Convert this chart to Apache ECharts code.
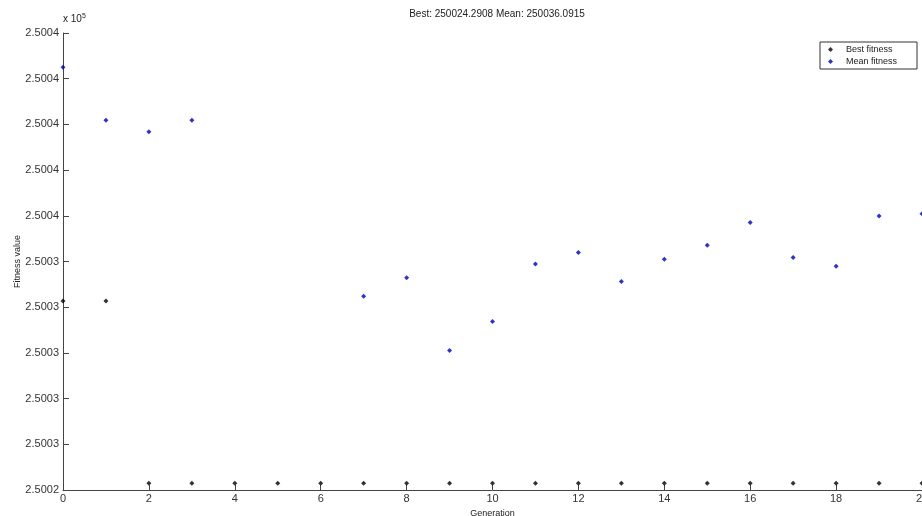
<!DOCTYPE html>
<html>
<head>
<meta charset="utf-8">
<script src="https://cdn.jsdelivr.net/npm/echarts@6/dist/echarts.min.js"></script>
<style>
  html, body { margin: 0; padding: 0; background: #fff; }
  #chart { width: 922px; height: 516px; }
</style>
</head>
<body>
<div id="chart"></div>
<script>
const generations = [0, 1, 2, 3, 4, 5, 6, 7, 8, 9, 10, 11, 12, 13, 14, 15, 16, 17, 18, 19, 20]
const bestFitness = [250032.27, 250032.27, 250024.29, 250024.29, 250024.29, 250024.29, 250024.29,
  250024.29, 250024.29, 250024.29, 250024.29, 250024.29, 250024.29, 250024.29, 250024.29,
  250024.29, 250024.29, 250024.29, 250024.29, 250024.29, 250024.2908]
// gens 4-6 mean points are not visible in the plot
const meanFitness = [250042.50, 250040.18, 250039.68, 250040.18, null, null, null,
  250032.48, 250033.29, 250030.10, 250031.37, 250033.89, 250034.39, 250033.12, 250034.10,
  250034.71, 250035.71, 250034.18, 250033.79, 250035.99, 250036.0915]
const yTicks = { min: 250024, max: 250044, step: 2 }

const pairs = (vals) => generations.map((g, i) => [g, vals[i]]).filter(p => p[1] != null)

const chart = echarts.init(document.getElementById('chart'), null, { renderer: 'canvas' })
const font = 'Liberation Sans, Arial, sans-serif'
const axisCol = '#444'

chart.setOption({
  animation: false,
  backgroundColor: '#fff',
  textStyle: { fontFamily: font },
  title: {
    text: 'Best: 250024.2908 Mean: 250036.0915',
    left: 492, top: 4, textAlign: 'center',
    textStyle: { fontSize: 10, fontWeight: 'normal', color: '#222', fontFamily: font }
  },
  legend: {
    orient: 'vertical',
    left: 820, top: 42,
    width: 97,
    padding: [3, 20, 3, 8],
    itemGap: 3,
    itemWidth: 5, itemHeight: 5,
    icon: 'diamond',
    borderColor: '#333', borderWidth: 1, borderRadius: 0,
    backgroundColor: '#fff',
    textStyle: { fontSize: 9, color: '#222', fontFamily: font, padding: [0, 0, 0, 8] },
    data: ['Best fitness', 'Mean fitness']
  },
  graphic: [
    {
      type: 'text', left: 63, top: 13,
      style: {
        text: '{b|x 10}{s|5}',
        rich: {
          b: { fontSize: 10, fill: '#222', fontFamily: font },
          s: { fontSize: 7, fill: '#222', fontFamily: font, verticalAlign: 'top', padding: [0, 0, 6, 0] }
        }
      }
    }
  ],
  grid: { left: 63, right: 0, top: 33, bottom: 26, containLabel: false, outerBoundsMode: 'none' },
  xAxis: {
    type: 'value', min: 0, max: 20, interval: 2,
    name: 'Generation', nameLocation: 'middle', nameGap: 15,
    nameTextStyle: { fontSize: 9, color: '#222' },
    axisLine: { onZero: false, lineStyle: { color: axisCol, width: 1 } },
    axisTick: { inside: true, length: 5, lineStyle: { color: axisCol } },
    axisLabel: { fontSize: 11, color: '#333', margin: 3 },
    splitLine: { show: false }
  },
  yAxis: {
    type: 'value', min: yTicks.min, max: yTicks.max, interval: yTicks.step,
    name: 'Fitness value', nameLocation: 'middle', nameGap: 41, nameRotate: 90,
    nameMoveOverlap: false,
    nameTextStyle: { fontSize: 9, color: '#222' },
    axisLine: { show: true, lineStyle: { color: axisCol, width: 1 } },
    axisTick: { show: true, inside: true, length: 6, lineStyle: { color: axisCol } },
    axisLabel: {
      fontSize: 11, color: '#333', margin: 4,
      formatter: (v) => (v / 1e5).toFixed(4)
    },
    splitLine: { show: false }
  },
  series: [
    {
      name: 'Best fitness', type: 'scatter',
      symbol: 'diamond', symbolSize: 5,
      itemStyle: { color: '#000' },
      data: pairs(bestFitness)
    },
    {
      name: 'Mean fitness', type: 'scatter',
      symbol: 'diamond', symbolSize: 5,
      itemStyle: { color: '#0000b4' },
      data: pairs(meanFitness)
    }
  ]
})

window.addEventListener('resize', () => chart.resize())
</script>
</body>
</html>
